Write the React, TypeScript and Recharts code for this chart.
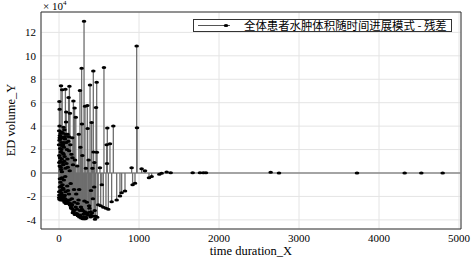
import React from 'react';
import { ScatterChart, Scatter, XAxis, YAxis, CartesianGrid, ErrorBar, ReferenceLine, ReferenceArea } from 'recharts';

// time (x) and residual (y, in units of 1e4) — early phase
const timeEarly = [2, 2, 4, 5, 5, 6, 8, 9, 10, 11, 12, 14, 15, 17, 18, 20, 21, 23, 25, 26, 28, 30, 31, 33, 35, 37, 40, 42, 44, 46, 48, 50, 52, 54, 57, 58, 60, 62, 64, 67, 70, 72, 75, 78, 80, 83, 86, 88, 90, 93, 96, 100, 103, 107, 110, 113, 117, 120, 124, 127, 130, 134, 137, 137, 142, 146, 150, 155, 160, 165, 170, 175, 180, 179, 188, 195, 200, 205, 210, 215, 221, 228, 233, 240, 247, 252, 258, 262, 262, 268, 274, 283, 287, 292, 296, 300, 304, 313, 318, 325, 329, 336, 342, 348, 354, 358, 362, 370, 376, 388, 392, 400, 404, 408, 418, 424, 429, 432, 440, 442, 450, 458, 463, 471, 474, 478, 490, 512, 521, 535, 554, 562, 587, 596, 600, 604, 617, 637, 658, 679, 721, 762, 783, 825, 908, 920, 950, 971, 975];
const residualEarly = [3.6, -2.1, 1.5, 6.1, -1.88, 2.8, 5.45, 0.6, -1.2, 3.2, -0.5, 2.1, -2.15, 1.0, -0.8, 3.4, -1.5, 1.8, 7.45, -2.2, 0.3, 2.6, -1.7, -2.0, 1.2, -0.4, 7.1, 3.0, -1.0, 0.9, -2.1, 2.4, -1.3, -2.3, 3.9, 1.6, -0.6, 2.2, -2.35, 3.7, 1.4, -1.9, 2.9, -0.3, 7.15, -1.6, 3.3, 4.35, 5.2, 0.8, -2.45, 2.0, -1.1, 3.3, 0.5, -2.5, 2.7, 6.45, -1.8, 1.9, 7.4, 0.2, 5.1, -2.73, 2.4, -0.9, -2.9, 1.6, -2.2, 3.0, -3.1, 0.7, 6.15, -3.3, -1.4, 5.55, 1.1, -3.5, 4.75, -1.8, -3.45, 0.6, -2.6, -3.6, 3.3, -1.4, -3.7, 7.05, -3.58, 2.2, -2.9, 8.93, 4.18, 1.5, -3.2, -3.8, -3.73, 12.94, -2.4, 5.7, -3.9, 0.4, -3.85, -2.5, 5.75, 3.8, -3.4, 1.1, -2.8, 7.5, -3.3, -1.5, -3.6, 4.3, 0.4, -2.2, 8.7, 1.8, -1.2, 0.9, -3.95, -3.7, 5.6, 7.75, 1.77, -3.78, -2.7, 0.45, -2.8, -1.0, -2.93, 9.0, -3.0, 2.4, 0.8, 3.85, -3.1, 2.5, -2.45, 4.0, -2.3, -1.96, -1.68, -1.54, 0.45, -1.0, -0.88, 10.84, 3.87];

// extra densely packed early observations
const timeDense = [1, 3, 3, 6, 7, 9, 11, 13, 16, 19, 22, 24, 27, 29, 32, 34, 36, 39, 41, 43, 47, 49, 51, 53, 56, 59, 63, 66, 69, 73, 77, 82, 85, 91, 98, 105, 112, 118, 126, 132, 145, 153, 163, 168, 173, 185, 192, 198, 208, 218, 225, 237, 244, 255, 265, 278, 285, 298, 308, 315, 322, 333, 345, 367, 380, 396, 412, 436, 446];
const residualDense = [2.4, -1.6, 0.9, -2.25, 4.0, 3.0, -1.9, 1.3, 2.9, -2.3, 0.5, 3.1, -1.1, 2.0, -2.25, 3.5, 0.1, -1.9, 2.3, -2.3, 1.7, 3.4, -2.0, 0.7, -1.4, 2.6, -2.0, 1.0, -2.5, 3.1, -2.2, 0.4, -2.6, 2.6, -2.3, 1.2, -1.5, -2.6, 3.1, -2.3, -2.6, -3.0, -2.7, 1.3, -3.4, -3.2, -2.5, -3.55, -2.9, -3.5, -3.1, -3.65, -2.3, -3.75, -3.2, -3.85, -3.1, -3.9, -3.5, -3.9, -3.3, -3.75, -3.5, -3.6, -3.0, -3.75, -3.4, -3.7, -3.2];

// late phase
const timeLate = [1033, 1075, 1125, 1158, 1254, 1283, 1346, 1396, 1671, 1762, 1804, 1837, 2646, 2750, 3725, 4321, 4529, 4796];
const residualLate = [0.37, 0.2, -0.4, -0.31, -0.11, -0.03, 0.09, 0.02, 0.02, 0.03, 0.02, 0.02, 0.06, 0, 0, 0, 0, 0];

const xTicks = [0, 1000, 2000, 3000, 4000, 5000];
const yTicks = [-4, -2, 0, 2, 4, 6, 8, 10, 12];
const xDomain = [-225, 5025];
const yDomain = [-4.78, 13.74];

const legendLabel = '全体患者水肿体积随时间进展模式 - 残差';

const times = [...timeEarly, ...timeDense, ...timeLate];
const residuals = [...residualEarly, ...residualDense, ...residualLate];
const data = times.map((t, i) => {
  const v = residuals[i];
  return { t, v, err: v >= 0 ? [v, 0] : [0, -v] };
});

const serif = '"Liberation Serif", "DejaVu Serif", serif';

const Dot = (p: any) => <ellipse cx={p.cx} cy={p.cy} rx={2.3} ry={1.5} fill="#000" />;

export default function App() {
  return (
    <div style={{ position: 'absolute', left: 0, top: 0, width: 472, height: 260, background: '#fff' }}>
      <ScatterChart width={472} height={260} margin={{ top: 12, right: 11, left: 0, bottom: 0 }}>
        <CartesianGrid stroke="#e4e4e4" strokeWidth={1} />
        <XAxis
          type="number"
          dataKey="t"
          domain={xDomain}
          ticks={xTicks}
          allowDataOverflow
          height={31}
          tickLine={false}
          axisLine={false}
          tickSize={3}
          tickMargin={2}
          tick={{ fill: '#000', fontSize: 11, fontFamily: serif }}
        />
        <YAxis
          type="number"
          dataKey="v"
          domain={yDomain}
          ticks={yTicks}
          allowDataOverflow
          width={41}
          tickLine={false}
          axisLine={false}
          tickSize={3}
          tickMargin={2}
          tick={{ fill: '#000', fontSize: 11, fontFamily: serif }}
        />
        <ReferenceLine y={0} stroke="#8a8a8a" strokeWidth={1.5} />
        <Scatter data={data} dataKey="v" shape={Dot} isAnimationActive={false}>
          <ErrorBar dataKey="err" direction="y" width={0} stroke="#6e6e6e" strokeWidth={1.3} isAnimationActive={false} />
        </Scatter>
        <ReferenceArea x1={xDomain[0]} x2={xDomain[1]} y1={yDomain[0]} y2={yDomain[1]} fill="none" stroke="#333" strokeWidth={1} ifOverflow="visible" />
      </ScatterChart>
      <div style={{ position: 'absolute', left: 43, top: -1, fontFamily: serif, fontSize: 11, color: '#000', whiteSpace: 'nowrap' }}>
        × 10<sup style={{ fontSize: 7 }}>4</sup>
      </div>
      <div style={{ position: 'absolute', left: 5, top: 120, width: 0, height: 0 }}>
        <div style={{ position: 'absolute', transform: 'translate(-50%, -50%) rotate(-90deg)', left: 6, top: 0, fontFamily: serif, fontSize: 12.5, whiteSpace: 'nowrap', color: '#000' }}>
          ED volume_Y
        </div>
      </div>
      <div style={{ position: 'absolute', left: 251, top: 251, transform: 'translate(-50%, -50%)', fontFamily: serif, fontSize: 12.5, whiteSpace: 'nowrap', color: '#000' }}>
        time duration_X
      </div>
      <div style={{ position: 'absolute', left: 193, top: 19, width: 257, height: 11, border: '1px solid #333', background: '#fff', display: 'flex', alignItems: 'center', boxSizing: 'content-box' }}>
        <svg width={50} height={11} style={{ flex: 'none' }}>
          <line x1={4} y1={5.5} x2={36} y2={5.5} stroke="#555" strokeWidth={1} />
          <ellipse cx={32} cy={5.5} rx={2.3} ry={1.5} fill="#000" />
        </svg>
        <span style={{ fontFamily: '"Noto Sans CJK SC", sans-serif', fontSize: 11.4, lineHeight: '11px', whiteSpace: 'nowrap', color: '#000' }}>{legendLabel}</span>
      </div>
    </div>
  );
}
